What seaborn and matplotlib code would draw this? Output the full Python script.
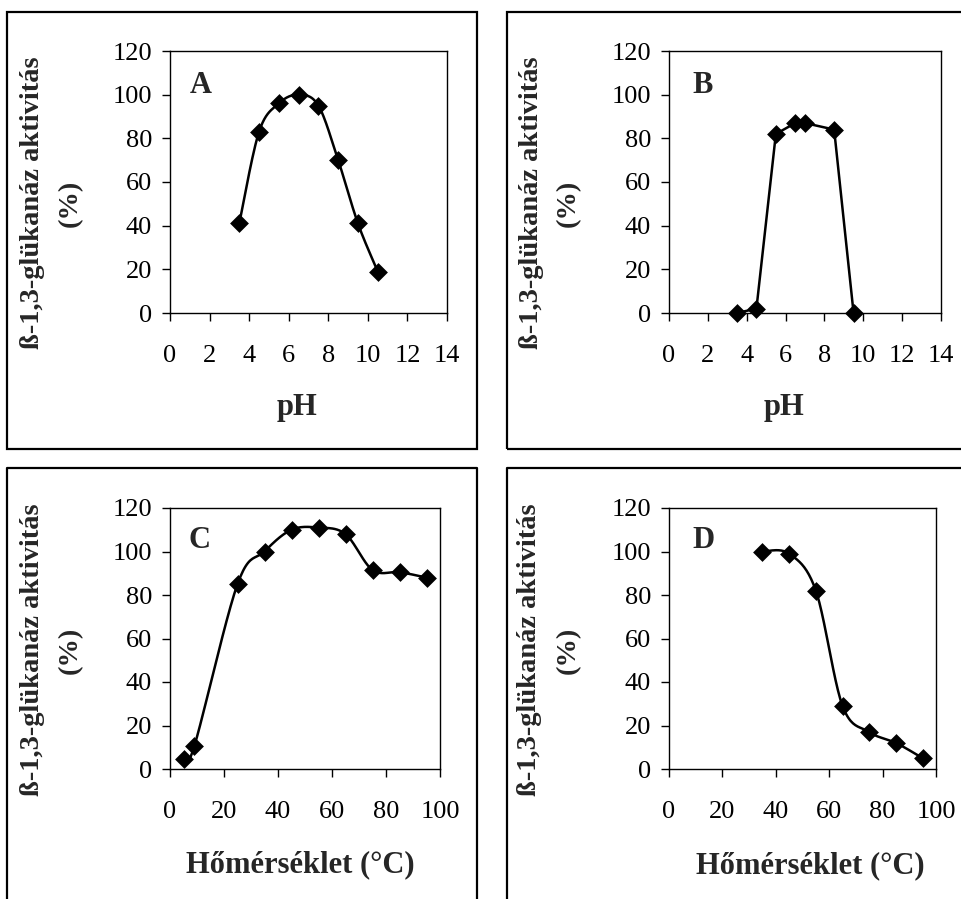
import numpy as np
import pandas as pd
import matplotlib
matplotlib.use("Agg")
import matplotlib.pyplot as plt
from matplotlib.patches import Rectangle
from matplotlib.lines import Line2D
import seaborn as sns

# ---- data ----
ph_a = [3.5, 4.5, 5.5, 6.5, 7.5, 8.5, 9.5, 10.5]
act_a = [41, 83, 96, 100, 95, 70, 41, 19]

ph_b = [3.5, 4.5, 5.5, 6.5, 7.0, 8.5, 9.5]
act_b = [0, 2, 82, 87, 87, 84, 0]

temp_c = [5, 9, 25, 35, 45, 55, 65, 75, 85, 95]
act_c = [4.5, 10.5, 85, 100, 110, 111, 108, 91.5, 90.5, 88]

temp_d = [35, 45, 55, 65, 75, 85, 95]
act_d = [100, 99, 82, 29, 17, 12, 5]

ph_ticks = [0, 2, 4, 6, 8, 10, 12, 14]
temp_ticks = [0, 20, 40, 60, 80, 100]
y_ticks = [0, 20, 40, 60, 80, 100, 120]

ylabel1 = "ß-1,3-glükanáz aktivitás"
ylabel2 = "(%)"
xlabel_ph = "pH"
xlabel_t = "Hőmérséklet (°C)"

sns.set_theme(style="ticks")
plt.rcParams["font.family"] = ["Liberation Serif", "DejaVu Serif"]

W, H = 961, 899
fig = plt.figure(figsize=(W / 100, H / 100), dpi=100)


def fx(px):
    return px / W


def fy(py):
    return 1 - py / H


def smooth(x, y, n=24):
    """Excel-like bezier smoothing (Catmull-Rom control points)."""
    x = np.asarray(x, float)
    y = np.asarray(y, float)
    P = np.column_stack([x, y])
    out = [P[0]]
    m = len(P)
    for i in range(m - 1):
        p0 = P[i - 1] if i > 0 else P[i]
        p1 = P[i]
        p2 = P[i + 1]
        p3 = P[i + 2] if i + 2 < m else P[i + 1]
        c1 = p1 + (p2 - p0) / 6.0
        c2 = p2 - (p3 - p1) / 6.0
        t = np.linspace(0, 1, n)[1:, None]
        seg = ((1 - t) ** 3) * p1 + 3 * ((1 - t) ** 2) * t * c1 + 3 * (1 - t) * t ** 2 * c2 + t ** 3 * p2
        out.extend(seg)
    out = np.array(out)
    return out[:, 0], out[:, 1]


panels = [
    dict(ax=(170, 447, 51, 313), x=ph_a, y=act_a, xt=ph_ticks, xlim=(0, 14), sm=True,
         letter="A", lpos=(190, 93), yl=(33, 70, 203), xl=xlabel_ph, xlpos=(297, 415),
         frame=(7, 477, 12, 449, True)),
    dict(ax=(669, 941, 51, 313), x=ph_b, y=act_b, xt=ph_ticks, xlim=(0, 14), sm=False,
         letter="B", lpos=(692, 93), yl=(531, 568, 203), xl=xlabel_ph, xlpos=(784, 415),
         frame=(507, 975, 12, 449, True)),
    dict(ax=(170, 440, 508, 769), x=temp_c, y=act_c, xt=temp_ticks, xlim=(0, 100), sm=True,
         letter="C", lpos=(188, 548), yl=(33, 70, 650), xl=xlabel_t, xlpos=(300, 872),
         frame=(7, 477, 468, 920, False)),
    dict(ax=(669, 936, 508, 769), x=temp_d, y=act_d, xt=temp_ticks, xlim=(0, 100), sm=True,
         letter="D", lpos=(692, 548), yl=(530, 568, 650), xl=xlabel_t, xlpos=(810, 873),
         frame=(507, 975, 468, 920, False)),
]

for p in panels:
    l, r, t, b = p["ax"]
    ax = fig.add_axes([fx(l), fy(b), fx(r - l), (b - t) / H])
    ax.set_facecolor("white")

    if p["sm"]:
        sx, sy = smooth(p["x"], p["y"])
    else:
        sx, sy = np.asarray(p["x"], float), np.asarray(p["y"], float)
    curve = pd.DataFrame({"x": sx, "y": sy})
    sns.lineplot(data=curve, x="x", y="y", sort=False, estimator=None, ax=ax,
                 color="black", linewidth=1.8, zorder=2)
    pts = pd.DataFrame({"x": p["x"], "y": p["y"]})
    sns.scatterplot(data=pts, x="x", y="y", ax=ax, marker="D", s=92, color="black",
                    linewidth=0, zorder=3, clip_on=False)

    ax.set_xlim(*p["xlim"])
    ax.set_ylim(0, 120)
    ax.set_xticks(p["xt"])
    ax.set_yticks(y_ticks)
    ax.set_xlabel("")
    ax.set_ylabel("")
    for s in ax.spines.values():
        s.set_visible(True)
        s.set_color("black")
        s.set_linewidth(1.0)
    ax.tick_params(axis="both", direction="out", length=6, width=1.0, colors="black",
                   labelsize=19)
    ax.tick_params(axis="x", pad=17)
    ax.tick_params(axis="y", pad=7)

    # panel letter
    lx, ly = p["lpos"]
    fig.text(fx(lx), fy(ly), p["letter"], fontsize=22, fontweight="bold",
             ha="left", va="baseline")
    # y label (two lines)
    x1, x2, yc = p["yl"]
    fig.text(fx(x1), fy(yc), ylabel1, rotation=90, fontsize=20.5, fontweight="bold",
             ha="center", va="center")
    fig.text(fx(x2), fy(yc), ylabel2, rotation=90, fontsize=20.5, fontweight="bold",
             ha="center", va="center")
    # x label
    xx, xy = p["xlpos"]
    fig.text(fx(xx), fy(xy), p["xl"], fontsize=22, fontweight="bold",
             ha="center", va="baseline")

    # panel frame
    fl, fr, ft, fb, closed = p["frame"]
    if closed:
        fig.add_artist(Rectangle((fx(fl), fy(fb)), fx(fr - fl), (fb - ft) / H,
                                 transform=fig.transFigure, fill=False,
                                 edgecolor="black", linewidth=1.6))
    else:
        xs = [fx(fl), fx(fl), fx(fr), fx(fr)]
        ys = [fy(fb), fy(ft), fy(ft), fy(fb)]
        fig.add_artist(Line2D(xs, ys, transform=fig.transFigure, color="black",
                              linewidth=1.6))

fig.savefig("out.png", dpi=100, facecolor="white")
